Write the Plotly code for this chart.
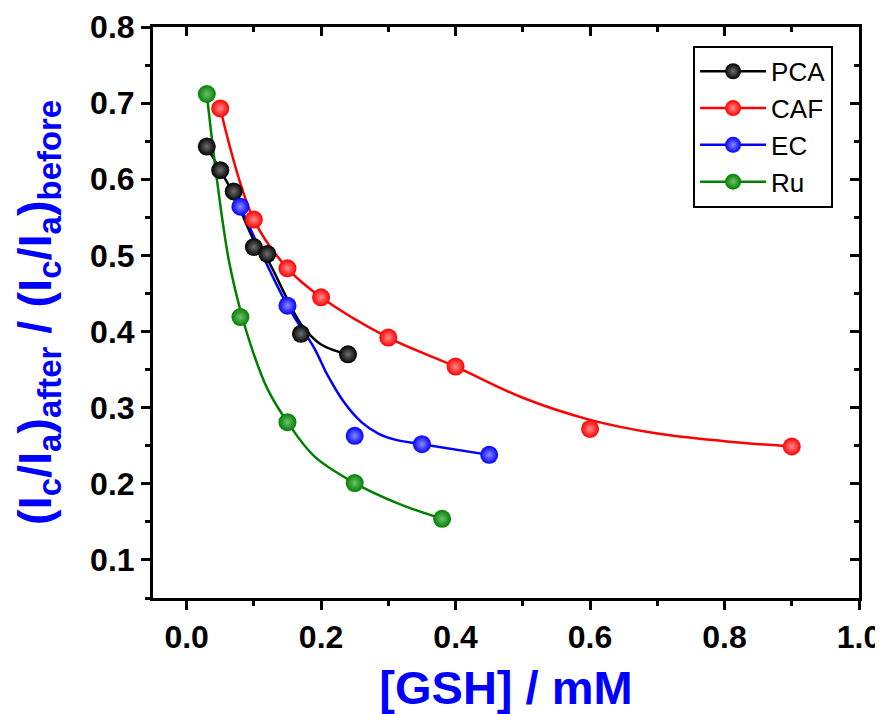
import plotly.graph_objects as go

# ---- data ----
pca_x = [0.03, 0.05, 0.07, 0.10, 0.12, 0.17, 0.24]
pca_y = [0.643, 0.612, 0.584, 0.511, 0.502, 0.397, 0.370]
pca_fit_x = [0.03, 0.05, 0.07, 0.10, 0.12, 0.15, 0.17, 0.20, 0.24]
pca_fit_y = [0.643, 0.612, 0.580, 0.520, 0.495, 0.442, 0.410, 0.383, 0.370]

caf_x = [0.05, 0.10, 0.15, 0.20, 0.30, 0.40, 0.60, 0.90]
caf_y = [0.693, 0.547, 0.483, 0.445, 0.392, 0.354, 0.272, 0.249]
caf_fit_x = [0.05, 0.10, 0.15, 0.20, 0.30, 0.40, 0.50, 0.60, 0.70, 0.80, 0.90]
caf_fit_y = [0.693, 0.547, 0.483, 0.445, 0.392, 0.354, 0.313, 0.284, 0.266, 0.256, 0.249]

ec_x = [0.08, 0.15, 0.25, 0.35, 0.45]
ec_y = [0.564, 0.434, 0.263, 0.252, 0.238]
ec_fit_x = [0.08, 0.15, 0.19, 0.21, 0.235, 0.26, 0.285, 0.31, 0.35, 0.45]
ec_fit_y = [0.564, 0.434, 0.378, 0.342, 0.306, 0.281, 0.266, 0.258, 0.252, 0.238]

ru_x = [0.03, 0.08, 0.15, 0.25, 0.38]
ru_y = [0.712, 0.419, 0.281, 0.201, 0.154]
ru_fit_x = [0.03, 0.045, 0.0625, 0.08, 0.10, 0.12, 0.15, 0.19, 0.25, 0.315, 0.38]
ru_fit_y = [0.712, 0.600, 0.495, 0.428, 0.370, 0.325, 0.281, 0.236, 0.201, 0.174, 0.154]

x_ticks = [0.0, 0.2, 0.4, 0.6, 0.8, 1.0]
y_ticks = [0.1, 0.2, 0.3, 0.4, 0.5, 0.6, 0.7, 0.8]

series = [
    ("PCA", pca_x, pca_y, pca_fit_x, pca_fit_y, "#000000", "#707070"),
    ("CAF", caf_x, caf_y, caf_fit_x, caf_fit_y, "#ff0000", "#ff8a8a"),
    ("EC", ec_x, ec_y, ec_fit_x, ec_fit_y, "#0000ff", "#8a8aff"),
    ("Ru", ru_x, ru_y, ru_fit_x, ru_fit_y, "#008000", "#70c070"),
]

FONT = "Arial, Liberation Sans, sans-serif"
fig = go.Figure()

# fitted curves
for name, x, y, fx, fy, col, hi in series:
    fig.add_trace(go.Scatter(
        x=fx, y=fy, mode="lines", line=dict(color=col, width=2.5, shape="spline", smoothing=1.0),
        showlegend=False, hoverinfo="skip", legendgroup=name))
# data points
for name, x, y, fx, fy, col, hi in series:
    fig.add_trace(go.Scatter(
        x=x, y=y, mode="markers", name=name, legendgroup=name, showlegend=False,
        marker=dict(size=18, color=col, line=dict(width=0),
                    gradient=dict(type="radial", color=hi))))
# legend entries
for name, x, y, fx, fy, col, hi in series:
    fig.add_trace(go.Scatter(
        x=[None], y=[None], mode="lines+markers", name=name, legendgroup=name,
        marker=dict(size=18, color=col, line=dict(width=0),
                    gradient=dict(type="radial", color=hi)),
        line=dict(color=col, width=2.5)))

# invisible trace for mirror axes
fig.add_trace(go.Scatter(x=[None], y=[None], xaxis="x2", yaxis="y2",
                         showlegend=False, hoverinfo="skip"))

line_common = dict(showgrid=False, zeroline=False, showline=True, linecolor="black",
                   linewidth=3, tickcolor="black", tickwidth=3, ticklen=9, automargin=False)
tickfont = dict(family=FONT, size=32, color="black", weight="bold")

fig.update_layout(
    width=875, height=706,
    margin=dict(l=145, r=24, t=19, b=116, autoexpand=False),
    plot_bgcolor="white", paper_bgcolor="white",
    xaxis=dict(range=[-0.05, 1.0], ticks="outside", tickvals=x_ticks,
               ticktext=[f"{v:.1f}" for v in x_ticks], tickfont=tickfont,
               minor=dict(ticks="outside", dtick=0.1, tick0=0, ticklen=5, tickwidth=3, tickcolor="black"),
               title=dict(text="[GSH] / mM", standoff=18,
                          font=dict(family=FONT, size=47, color="#0000ff", weight="bold")),
               **line_common),
    yaxis=dict(range=[0.05, 0.8], ticks="outside", tickvals=y_ticks,
               ticktext=[f"{v:.1f}" for v in y_ticks], tickfont=tickfont,
               minor=dict(ticks="outside", dtick=0.05, tick0=0, ticklen=5, tickwidth=3, tickcolor="black"),
               title=dict(text="(I<sub>c</sub>/I<sub>a</sub>)<sub>after</sub> / (I<sub>c</sub>/I<sub>a</sub>)<sub>before</sub>",
                          standoff=26,
                          font=dict(family=FONT, size=47, color="#0000ff", weight="bold")),
               **line_common),
    xaxis2=dict(range=[-0.05, 1.0], overlaying="x", side="top", ticks="inside",
                tickvals=x_ticks, showticklabels=False,
                minor=dict(ticks="inside", dtick=0.1, tick0=0, ticklen=5, tickwidth=3, tickcolor="black"),
                **line_common),
    yaxis2=dict(range=[0.05, 0.8], overlaying="y", side="right", ticks="inside",
                tickvals=y_ticks, showticklabels=False,
                minor=dict(ticks="inside", dtick=0.05, tick0=0, ticklen=5, tickwidth=3, tickcolor="black"),
                **line_common),
    legend=dict(x=0.765, y=0.967, xanchor="left", yanchor="top",
                bordercolor="black", borderwidth=2, bgcolor="white",
                font=dict(family=FONT, size=26, color="black"),
                itemwidth=66, tracegroupgap=0),
    showlegend=True,
)

fig.write_html("out.html")
